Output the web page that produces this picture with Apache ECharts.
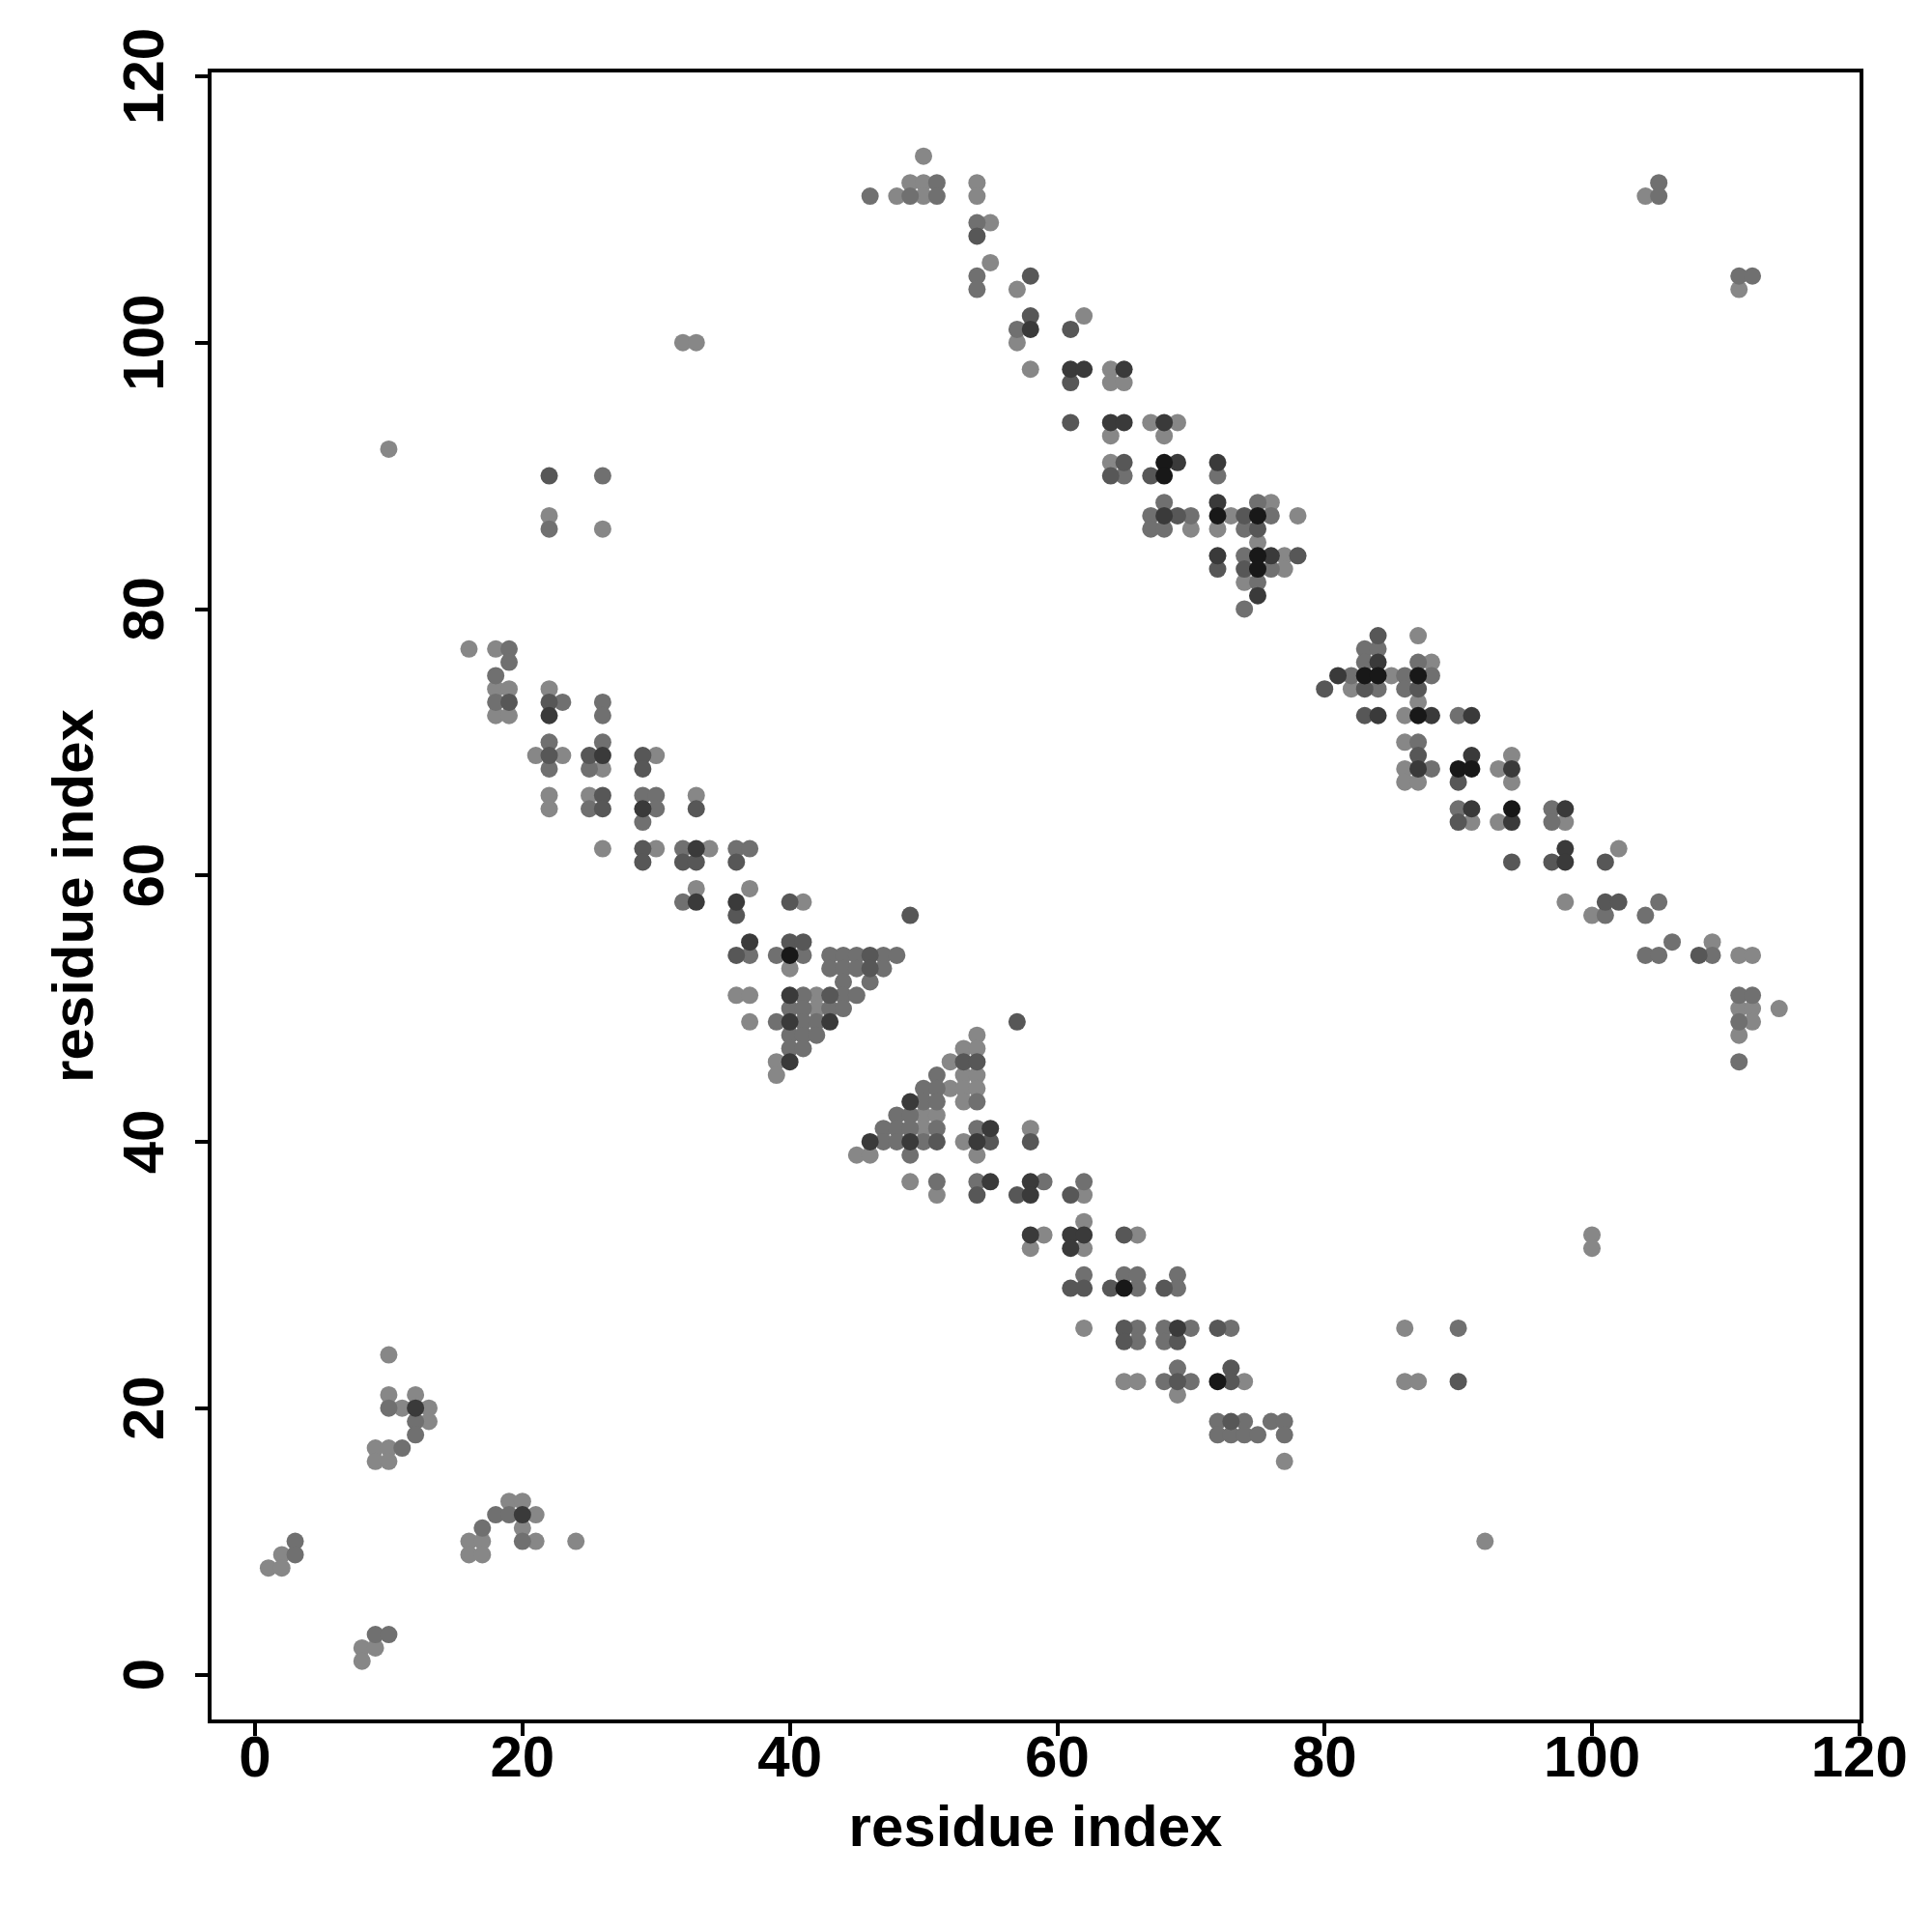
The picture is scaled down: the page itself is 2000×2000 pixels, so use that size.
<!DOCTYPE html>
<html><head><meta charset="utf-8">
<script src="https://cdn.jsdelivr.net/npm/echarts@6/dist/echarts.min.js"></script>
<style>html,body{margin:0;padding:0;background:#fff}#c{width:2000px;height:2000px}</style>
</head><body><div id="c"></div>
<script>
// Contact points grouped by intensity level (1 = faint, 5 = strongest)
const contactsL1 = [[50,114],[49,112],[50,112],[54,112],[48,111],[50,111],[54,111],[55,109],[55,106],[57,104],[62,102],[57,100],[58,98],[64,98],[64,97],[65,97],[67,94],[69,94],[64,93],[68,93],[64,91],[76,88],[73,87],[78,87],[70,86],[72,86],[75,85],[77,84],[77,83],[74,82],
[85,75],[87,78],[82,74],[87,73],[86,72],[86,70],[94,69],[86,68],[93,68],[86,67],[87,67],[94,67],[91,64],[93,64],[98,64],[102,62],[98,58],[88,76],
[109,55],[111,54],[112,54],[111,50],[112,50],[114,50],[112,49],[111,48],[100,57],
[104,111],[111,104],
[32,100],[33,100],[10,92],[22,87],[26,86],
[100,33],[100,32],[86,26],[86,22],[87,22],[92,10],
[16,77],[18,77],[18,74],[19,74],[22,74],[18,72],[19,72],[21,69],[23,69],[30,69],[26,68],[22,66],[25,66],[33,66],[22,65],[26,62],[30,62],[34,62],[33,59],
[37,59],[41,58],[40,53],[36,51],[37,51],[42,51],[42,50],[37,49],[39,46],[39,45],
[54,48],[53,47],[54,47],[52,46],[53,45],[54,45],[52,44],[53,44],[54,44],[53,43],[50,42],[51,42],[50,41],[58,41],[53,40],[45,39],[46,39],[54,39],[49,37],[51,36],[62,36],[62,34],[59,33],[66,33],[58,32],[62,32],
[62,26],[65,22],[66,22],[74,22],[69,21],[77,16],
[10,24],[10,21],[12,21],[11,20],[13,20],[13,19],[9,17],[10,17],[9,16],[10,16],[19,13],[20,13],[21,12],[20,11],[16,10],[17,10],[21,10],[24,10],[16,9],[17,9],[2,9],[1,8],[2,8],[8,2],[9,2],[8,1]];

const contactsL2 = [[51,112],[46,111],[49,111],[51,111],[54,109],[54,105],[54,104],[57,101],
[65,90],[72,90],[68,88],[75,88],[67,87],[70,87],[76,87],[67,86],[68,86],[74,86],[74,84],[76,83],[75,82],[74,80],
[82,75],[86,75],[88,75],[83,77],[84,77],[83,76],[87,76],[84,74],[86,74],[90,72],[87,70],[88,68],[90,65],[97,65],[97,64],
[105,58],[101,57],[104,57],[106,55],[104,54],[105,54],[109,54],[111,51],[112,51],[111,49],[111,46],
[105,112],[105,111],[111,105],[112,105],
[26,90],[22,86],[90,26],
[19,77],[19,76],[18,75],[18,73],[23,73],[26,73],[26,72],[22,70],[26,70],[22,68],[25,68],[29,66],[30,66],[25,65],[30,65],[29,64],[32,62],[36,62],[37,62],[32,58],
[37,54],[39,54],[41,54],[43,54],[44,54],[45,54],[47,54],[48,54],[43,53],[44,53],[45,53],[47,53],[44,52],[46,52],[41,51],[44,51],[45,51],[40,50],[41,50],[43,50],[44,50],[39,49],[41,49],[42,49],[40,48],[41,48],[42,48],[40,47],[41,47],
[51,45],[50,44],[51,44],[50,43],[51,43],[54,43],[48,42],[49,42],[47,41],[48,41],[49,41],[51,41],[54,41],[47,40],[48,40],[50,40],[49,39],[51,37],[54,37],[59,37],[62,37],[62,30],[65,30],[66,29],
[66,30],[69,30],[69,29],[66,26],[68,26],[70,26],[73,26],[66,25],[68,25],[69,23],[68,22],[70,22],[72,19],[74,19],[76,19],[77,19],[72,18],[73,18],[74,18],[75,18],[77,18],
[10,20],[12,19],[12,18],[11,17],[18,12],[19,12],[17,11],[20,10],[3,10],[3,9],[9,3],[10,3]];

const contactsL3 = [[54,108],[58,105],[58,102],[61,101],[61,97],[61,94],
[64,90],[67,90],[65,91],[69,87],[74,87],[75,86],[78,84],[72,83],[74,83],
[80,74],[84,78],[83,74],[87,74],[83,72],[87,69],[90,67],[90,64],[94,61],[97,61],[101,61],[101,58],[102,58],
[108,54],
[22,90],[90,22],
[19,73],[22,73],[22,69],[25,69],[29,69],[29,68],[26,66],[26,65],[33,65],[29,62],[29,61],[32,61],[33,61],[36,61],[36,57],
[40,58],[49,57],[40,55],[41,55],[36,54],[46,54],[46,53],[43,51],
[57,49],[53,46],[54,46],[51,40],[55,40],[58,40],[54,36],[57,36],[61,36],[65,33],[61,29],[62,29],[64,29],
[68,29],[65,26],[72,26],[65,25],[69,25],[73,23],[69,22],[73,22],[73,19]];

const contactsL4 = [[58,101],[61,98],[62,98],[65,98],[64,94],[65,94],[68,94],[69,91],[72,91],[72,88],[68,87],[72,84],[76,84],[75,81],
[81,75],[84,76],[84,72],[88,72],[91,72],[91,69],[87,68],[94,68],[91,65],[98,65],[94,64],[98,62],[98,61],
[22,72],[26,69],[29,65],[33,62],[33,58],[36,58],
[37,55],[40,51],[40,49],[43,49],[40,46],
[49,43],[55,41],[46,40],[49,40],[54,40],[55,37],[58,37],[58,36],[58,33],[61,33],[62,33],[61,32],
[69,26],[12,20],[20,12]];

const contactsL5 = [[68,91],[68,90],[72,87],[75,87],[75,84],[75,83],
[83,75],[84,75],[87,75],[87,72],[90,68],[91,68],[94,65],
[40,54],[65,29],[72,22]];

const tickValues = [0, 20, 40, 60, 80, 100, 120];
const xTitle = 'residue index';
const yTitle = 'residue index';

const levels = [contactsL1, contactsL2, contactsL3, contactsL4, contactsL5];
const levelColors = ['#878787', '#707070', '#575757', '#3a3a3a', '#181818'];

const font = 'Liberation Sans, Arial, Helvetica, sans-serif';
const labelStyle = {fontSize: 60, fontWeight: 'bold', fontFamily: font, color: '#000'};

const chart = echarts.init(document.getElementById('c'), null, {renderer: 'canvas'});
chart.setOption({
  animation: false,
  backgroundColor: '#fff',
  grid: {left: 217, right: 73, top: 73, bottom: 218, show: true, borderColor: '#000', borderWidth: 4, backgroundColor: 'transparent'},
  xAxis: {
    type: 'value', min: -3.4, max: 120.16,
    axisLine: {show: false, onZero: false},
    splitLine: {show: false},
    axisTick: {show: true, inside: false, customValues: tickValues, length: 15, lineStyle: {color: '#000', width: 4}},
    axisLabel: Object.assign({customValues: tickValues, margin: 10}, labelStyle),
    name: xTitle, nameLocation: 'middle', nameGap: 82,
    nameTextStyle: labelStyle
  },
  yAxis: {
    type: 'value', min: -3.52, max: 120.43,
    axisLine: {show: false, onZero: false},
    splitLine: {show: false},
    axisTick: {show: true, inside: false, customValues: tickValues, length: 15, lineStyle: {color: '#000', width: 4}},
    axisLabel: Object.assign({customValues: tickValues, margin: 35, rotate: 90}, labelStyle),
    name: yTitle, nameLocation: 'middle', nameGap: 108, nameRotate: 90,
    nameTextStyle: labelStyle
  },
  series: levels.map((pts, i) => ({
    type: 'scatter',
    data: pts,
    symbol: 'circle',
    symbolSize: 18,
    itemStyle: {color: levelColors[i], opacity: 1},
    z: 2 + i
  }))
});
</script>
</body></html>
